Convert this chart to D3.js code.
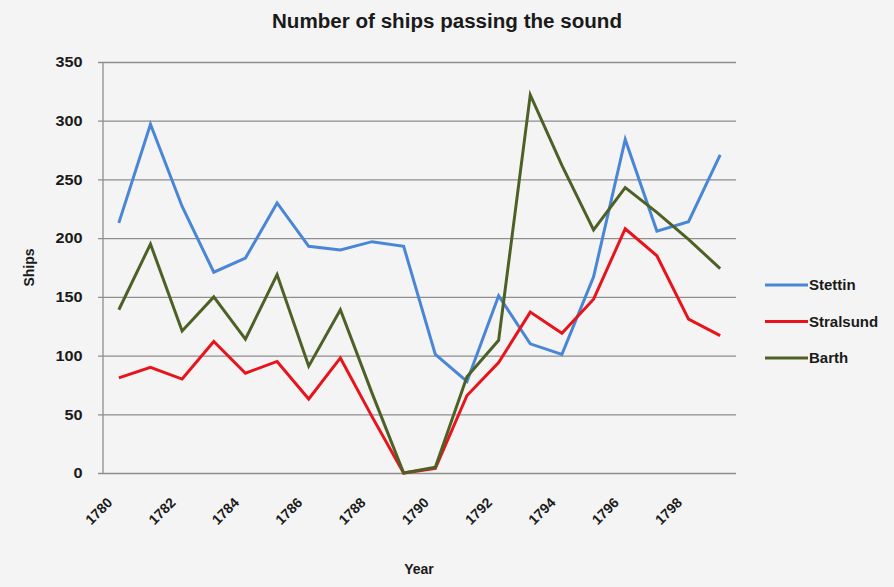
<!DOCTYPE html>
<html>
<head>
<meta charset="utf-8">
<script src="https://cdn.jsdelivr.net/npm/d3@7"></script>
<style>
  html, body { margin: 0; padding: 0; background: #f4f4f4; }
  svg { display: block; }
  text { font-family: "Liberation Sans", Arial, sans-serif; fill: #1a1a1a; }
</style>
</head>
<body>
<svg id="chart" width="894" height="587"></svg>
<script>
// Ships passing the Sound per year, by home port
const years = [1780, 1781, 1782, 1783, 1784, 1785, 1786, 1787, 1788, 1789,
               1790, 1791, 1792, 1793, 1794, 1795, 1796, 1797, 1798, 1799];
const stettin   = [213, 297, 227, 171, 183, 230, 193, 190, 197, 193,
                   101, 78, 151, 110, 101, 167, 284, 206, 214, 271];
const stralsund = [81, 90, 80, 112, 85, 95, 63, 98, 48, 0,
                   4, 66, 94, 137, 119, 148, 208, 185, 131, 117];
const barth     = [139, 195, 121, 150, 114, 169, 91, 139, 68, 0,
                   5, 82, 113, 322, 262, 207, 243, 222, 199, 174];
const seriesNames  = ["Stettin", "Stralsund", "Barth"];
const seriesColors = ["#4a86d6", "#e8141c", "#4d6127"];
const yTicks = [0, 50, 100, 150, 200, 250, 300, 350];
const xTickYears = [1780, 1782, 1784, 1786, 1788, 1790, 1792, 1794, 1796, 1798];

const svg = d3.select("#chart");
const W = 894, H = 587;
const margin = { left: 103, right: 158, top: 62, bottom: 114 };
const plotW = W - margin.left - margin.right;
const plotH = H - margin.top - margin.bottom;

// background
svg.append("rect").attr("x", 0).attr("y", 0).attr("width", W).attr("height", H)
  .attr("fill", "#f4f4f4");

const x = d3.scaleBand().domain(years).range([0, plotW]);
const y = d3.scaleLinear().domain([0, 350]).range([plotH, 0]);

const g = svg.append("g").attr("transform", `translate(${margin.left},${margin.top})`);

// horizontal gridlines with left ticks and labels
const yAxis = d3.axisLeft(y).tickValues(yTicks).tickSize(-plotW).tickPadding(19);
const ya = g.append("g").call(yAxis);
ya.select(".domain").remove();
ya.selectAll(".tick line").attr("stroke", "#8e8e8e").attr("stroke-width", 1.3).attr("x1", -5);
ya.selectAll(".tick text").attr("font-size", 15).attr("font-weight", "bold").attr("fill", "#1a1a1a")
  .attr("font-family", "'Liberation Sans Narrow', 'Liberation Sans', Arial, sans-serif")
  .attr("transform", "scale(1.08,1)");

// vertical axis line
g.append("line").attr("x1", 0).attr("x2", 0).attr("y1", 0).attr("y2", plotH)
  .attr("stroke", "#8e8e8e").attr("stroke-width", 1.3);

// category axis labels
const xa = g.append("g").attr("transform", `translate(0,${plotH})`);
xTickYears.forEach(yr => {
  const cx = x(yr) + x.bandwidth() / 2;
  xa.append("text")
    .attr("transform", `translate(${cx - 9},${27}) rotate(-45)`)
    .attr("text-anchor", "end")
    .attr("dy", "0.35em")
    .attr("font-size", 14)
    .attr("font-weight", "bold")
    .text(yr);
});

// lines
const line = d3.line()
  .x((d, i) => x(years[i]) + x.bandwidth() / 2)
  .y(d => y(d));

[stettin, stralsund, barth].forEach((vals, k) => {
  g.append("path")
    .datum(vals)
    .attr("fill", "none")
    .attr("stroke", seriesColors[k])
    .attr("stroke-width", 3)
    .attr("stroke-linejoin", "miter")
    .attr("d", line);
});

// title
svg.append("text")
  .attr("x", 447).attr("y", 28)
  .attr("text-anchor", "middle")
  .attr("font-size", 20)
  .attr("font-weight", "bold")
  .attr("textLength", 350)
  .attr("lengthAdjust", "spacingAndGlyphs")
  .text("Number of ships passing the sound");

// axis titles
svg.append("text")
  .attr("transform", `translate(34,${margin.top + plotH / 2}) rotate(-90)`)
  .attr("text-anchor", "middle")
  .attr("font-size", 14)
  .attr("font-weight", "bold")
  .text("Ships");

svg.append("text")
  .attr("x", 419).attr("y", 574)
  .attr("text-anchor", "middle")
  .attr("font-size", 14)
  .attr("font-weight", "bold")
  .text("Year");

// legend
const legend = svg.append("g").attr("transform", "translate(765,285)");
seriesNames.forEach((name, k) => {
  const row = legend.append("g").attr("transform", `translate(0,${k * 36.5})`);
  row.append("line").attr("x1", 0).attr("x2", 43).attr("y1", 0).attr("y2", 0)
    .attr("stroke", seriesColors[k]).attr("stroke-width", 3);
  row.append("text").attr("x", 44).attr("y", 0).attr("dy", "0.35em")
    .attr("font-size", 15).attr("font-weight", "bold").text(name);
});
</script>
</body>
</html>
